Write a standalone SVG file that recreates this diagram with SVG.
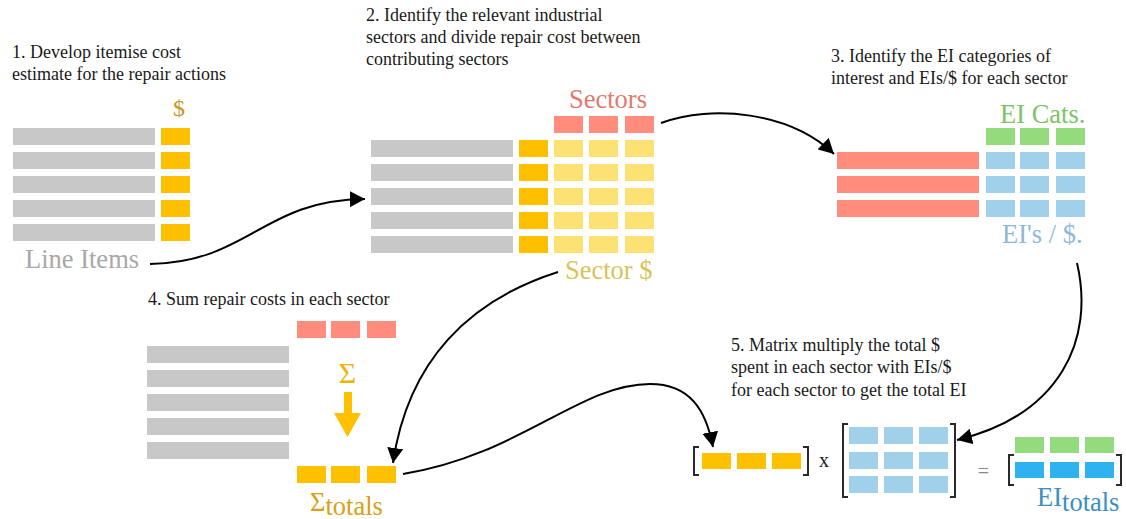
<svg xmlns="http://www.w3.org/2000/svg" width="1126" height="519" viewBox="0 0 1126 519">
  <style>
    text { font-family: "Times New Roman", Times, "Liberation Serif", "DejaVu Serif", serif; }
    .title { font-size: 18px; fill: #1a1a1a; }
    .label { font-size: 26.5px; }
    .gray { fill: #c8c8c8; }
    .orange { fill: #ffc000; }
    .yellow { fill: #fce173; }
    .red { fill: #ff8c7c; }
    .green { fill: #93db7d; }
    .lblue { fill: #a0d0ea; }
    .blue { fill: #2fb3f0; }
    .bracket { fill: none; stroke: #2a2a2a; stroke-width: 2; }
    .conn { fill: none; stroke: #000; stroke-width: 2; marker-end: url(#arrow); }
  </style>
  <defs>
    <marker id="arrow" markerUnits="userSpaceOnUse" markerWidth="16" markerHeight="16" refX="15" refY="8" orient="auto">
      <path d="M0,0 L15,8 L0,16 z" fill="#000"/>
    </marker>
  </defs>
  <rect width="1126" height="519" fill="#fff"/>

  <!-- Step 1: itemised cost estimate -->
  <g id="step1">
    <text class="title" x="12" y="58">1. Develop itemise cost</text>
    <text class="title" x="12" y="80">estimate for the repair actions</text>
    <text x="179" y="116" text-anchor="middle" fill="#c8961e" style="font-size:24px">$</text>
    <rect class="gray" x="13" y="128" width="142" height="17"/>
    <rect class="gray" x="13" y="152" width="142" height="17"/>
    <rect class="gray" x="13" y="176" width="142" height="17"/>
    <rect class="gray" x="13" y="200" width="142" height="17"/>
    <rect class="gray" x="13" y="224" width="142" height="17"/>
    <rect class="orange" x="161" y="128" width="29" height="17"/>
    <rect class="orange" x="161" y="152" width="29" height="17"/>
    <rect class="orange" x="161" y="176" width="29" height="17"/>
    <rect class="orange" x="161" y="200" width="29" height="17"/>
    <rect class="orange" x="161" y="224" width="29" height="17"/>
    <text class="label" x="25" y="268" fill="#a8a8a8">Line Items</text>
  </g>

  <!-- Step 2: split cost between sectors -->
  <g id="step2">
    <text class="title" x="366" y="21">2. Identify the relevant industrial</text>
    <text class="title" x="366" y="43">sectors and divide repair cost between</text>
    <text class="title" x="366" y="65">contributing sectors</text>
    <text class="label" x="569" y="108" fill="#e27a6c">Sectors</text>
    <rect class="red" x="554" y="116" width="29" height="17"/>
    <rect class="red" x="589" y="116" width="29" height="17"/>
    <rect class="red" x="625" y="116" width="29" height="17"/>
    <g>
      <rect class="gray" x="371" y="140" width="142" height="17"/>
      <rect class="gray" x="371" y="164" width="142" height="17"/>
      <rect class="gray" x="371" y="188" width="142" height="17"/>
      <rect class="gray" x="371" y="212" width="142" height="17"/>
      <rect class="gray" x="371" y="236" width="142" height="17"/>
    </g>
    <g>
      <rect class="orange" x="519" y="140" width="29" height="17"/>
      <rect class="orange" x="519" y="164" width="29" height="17"/>
      <rect class="orange" x="519" y="188" width="29" height="17"/>
      <rect class="orange" x="519" y="212" width="29" height="17"/>
      <rect class="orange" x="519" y="236" width="29" height="17"/>
    </g>
    <g>
      <rect class="yellow" x="554" y="140" width="29" height="17"/>
      <rect class="yellow" x="589" y="140" width="29" height="17"/>
      <rect class="yellow" x="625" y="140" width="29" height="17"/>
      <rect class="yellow" x="554" y="164" width="29" height="17"/>
      <rect class="yellow" x="589" y="164" width="29" height="17"/>
      <rect class="yellow" x="625" y="164" width="29" height="17"/>
      <rect class="yellow" x="554" y="188" width="29" height="17"/>
      <rect class="yellow" x="589" y="188" width="29" height="17"/>
      <rect class="yellow" x="625" y="188" width="29" height="17"/>
      <rect class="yellow" x="554" y="212" width="29" height="17"/>
      <rect class="yellow" x="589" y="212" width="29" height="17"/>
      <rect class="yellow" x="625" y="212" width="29" height="17"/>
      <rect class="yellow" x="554" y="236" width="29" height="17"/>
      <rect class="yellow" x="589" y="236" width="29" height="17"/>
      <rect class="yellow" x="625" y="236" width="29" height="17"/>
    </g>
    <text class="label" x="565" y="279" fill="#d8c35a">Sector $</text>
  </g>

  <!-- Step 3: EI categories and EIs per dollar -->
  <g id="step3">
    <text class="title" x="831" y="62">3. Identify the EI categories of</text>
    <text class="title" x="831" y="84">interest and EIs/$ for each sector</text>
    <text class="label" x="1000" y="123" fill="#7dc466">EI Cats.</text>
    <rect class="green" x="986" y="128" width="29" height="17"/>
    <rect class="green" x="1020" y="128" width="29" height="17"/>
    <rect class="green" x="1056" y="128" width="29" height="17"/>
    <rect class="red" x="837" y="152" width="142" height="17"/>
    <rect class="red" x="837" y="176" width="142" height="17"/>
    <rect class="red" x="837" y="200" width="142" height="17"/>
    <rect class="lblue" x="986" y="152" width="29" height="17"/>
    <rect class="lblue" x="1020" y="152" width="29" height="17"/>
    <rect class="lblue" x="1056" y="152" width="29" height="17"/>
    <rect class="lblue" x="986" y="176" width="29" height="17"/>
    <rect class="lblue" x="1020" y="176" width="29" height="17"/>
    <rect class="lblue" x="1056" y="176" width="29" height="17"/>
    <rect class="lblue" x="986" y="200" width="29" height="17"/>
    <rect class="lblue" x="1020" y="200" width="29" height="17"/>
    <rect class="lblue" x="1056" y="200" width="29" height="17"/>
    <text class="label" x="1002" y="243" fill="#8db9d8">EI's / $.</text>
  </g>

  <!-- Step 4: sum per sector -->
  <g id="step4">
    <text class="title" x="148" y="305">4. Sum repair costs in each sector</text>
    <rect class="red" x="297" y="321" width="29" height="17"/>
    <rect class="red" x="331" y="321" width="29" height="17"/>
    <rect class="red" x="367" y="321" width="29" height="17"/>
    <rect class="gray" x="147" y="346" width="142" height="17"/>
    <rect class="gray" x="147" y="370" width="142" height="17"/>
    <rect class="gray" x="147" y="394" width="142" height="17"/>
    <rect class="gray" x="147" y="418" width="142" height="17"/>
    <rect class="gray" x="147" y="442" width="142" height="17"/>
    <text x="347.5" y="383" text-anchor="middle" fill="#f0b400" style="font-size:30px">Σ</text>
    <polygon points="344,392 352,392 352,413 361,413 347.5,437 334,413 344,413" fill="#ffc000"/>
    <rect class="orange" x="297" y="466" width="29" height="17"/>
    <rect class="orange" x="331" y="466" width="29" height="17"/>
    <rect class="orange" x="367" y="466" width="29" height="17"/>
    <text class="label" x="310" y="511" fill="#d9a018">Σ<tspan dy="4">totals</tspan></text>
  </g>

  <!-- Step 5: matrix multiplication -->
  <g id="step5">
    <text class="title" x="731" y="351">5. Matrix multiply the total $</text>
    <text class="title" x="731" y="373">spent in each sector with EIs/$</text>
    <text class="title" x="731" y="396">for each sector to get the total EI</text>
    <path class="bracket" d="M699,447 H694 V475 H699"/>
    <rect class="orange" x="702" y="453" width="29" height="16"/>
    <rect class="orange" x="737" y="453" width="29" height="16"/>
    <rect class="orange" x="772" y="453" width="29" height="16"/>
    <path class="bracket" d="M803,447 H808 V475 H803"/>
    <text x="819" y="467" fill="#1a1a1a" style="font-size:20px">x</text>
    <path class="bracket" d="M848,424 H843 V497 H848"/>
    <rect class="lblue" x="849" y="427" width="29" height="17"/>
    <rect class="lblue" x="884" y="427" width="29" height="17"/>
    <rect class="lblue" x="919" y="427" width="29" height="17"/>
    <rect class="lblue" x="849" y="452" width="29" height="17"/>
    <rect class="lblue" x="884" y="452" width="29" height="17"/>
    <rect class="lblue" x="919" y="452" width="29" height="17"/>
    <rect class="lblue" x="849" y="476" width="29" height="17"/>
    <rect class="lblue" x="884" y="476" width="29" height="17"/>
    <rect class="lblue" x="919" y="476" width="29" height="17"/>
    <path class="bracket" d="M950,424 H955 V497 H950"/>
    <text x="983.5" y="478" text-anchor="middle" fill="#8a8a8a" style="font-size:20px">=</text>
    <rect class="green" x="1015" y="437" width="29" height="16"/>
    <rect class="green" x="1050" y="437" width="29" height="16"/>
    <rect class="green" x="1085" y="437" width="29" height="16"/>
    <path class="bracket" d="M1014,455 H1009 V485 H1014"/>
    <rect class="blue" x="1015" y="462" width="29" height="16"/>
    <rect class="blue" x="1050" y="462" width="29" height="16"/>
    <rect class="blue" x="1085" y="462" width="29" height="16"/>
    <path class="bracket" d="M1116,455 H1121 V485 H1116"/>
    <text class="label" x="1037" y="506" fill="#3a8fc6">EI<tspan dy="5">totals</tspan></text>
  </g>

  <!-- Flow between the steps -->
  <g id="connectors">
    <path class="conn" d="M150,264 C250,262 262,200 365,199"/>
    <path class="conn" d="M661,123 C712,104 790,112 834,154"/>
    <path class="conn" d="M1077,263 C1095,340 1060,415 957,440"/>
    <path class="conn" d="M558,272 C470,300 408,360 393,463"/>
    <path class="conn" d="M403,474 C520,455 580,384 650,384 C690,384 706,410 713,447"/>
  </g>
</svg>
